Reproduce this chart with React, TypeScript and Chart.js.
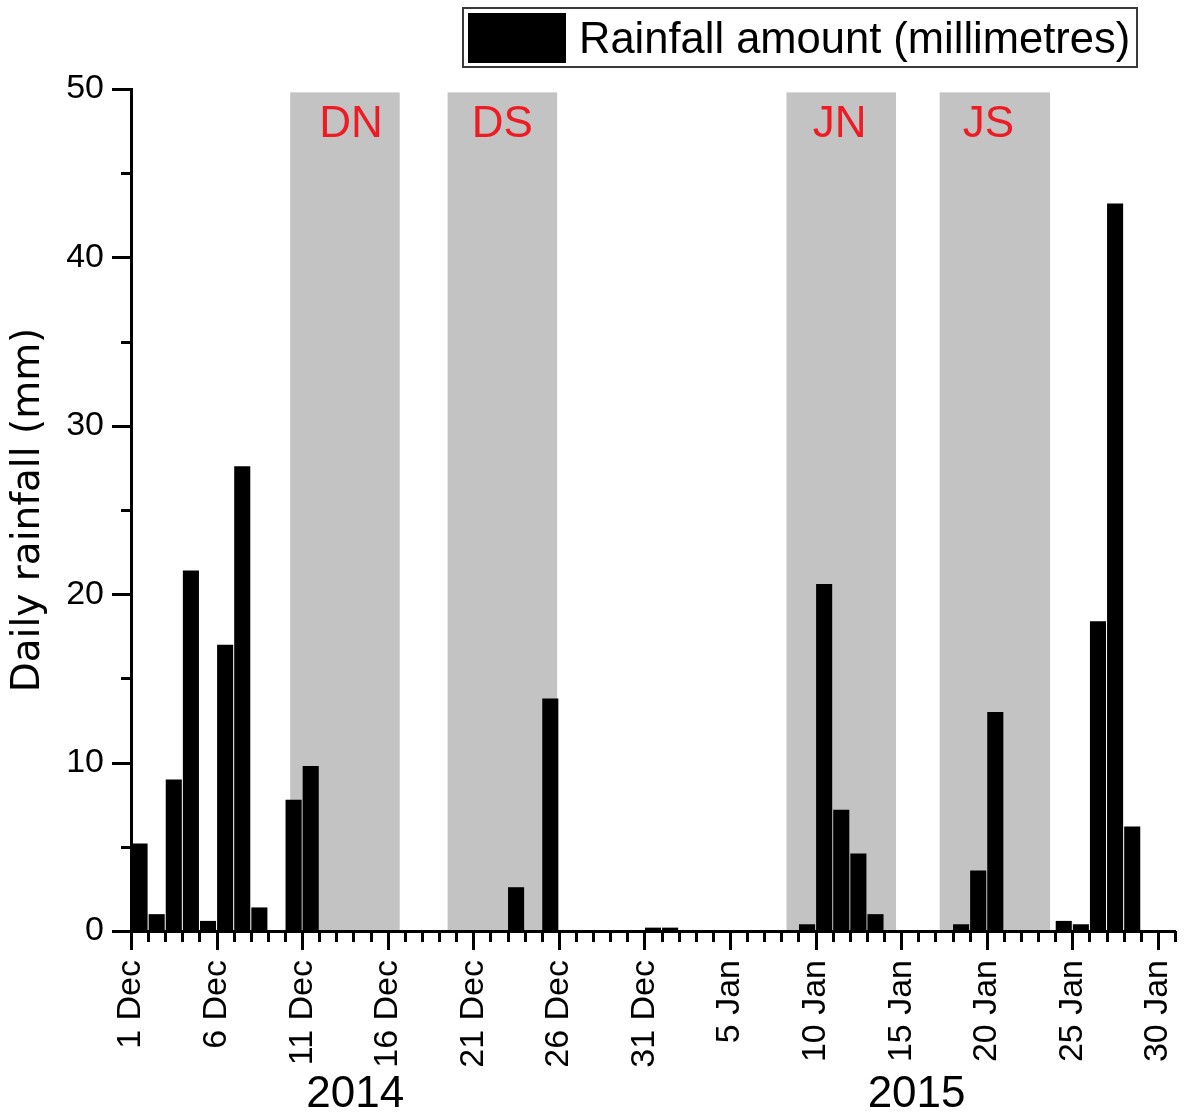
import React, { useEffect, useRef } from 'react';
import { Chart, registerables } from 'chart.js';

Chart.register(...registerables);

// Day categories (1 Dec 2014 to 30 Jan 2015)
const dayLabels = [
  '1 Dec', '2 Dec', '3 Dec', '4 Dec', '5 Dec', '6 Dec', '7 Dec', '8 Dec', '9 Dec', '10 Dec',
  '11 Dec', '12 Dec', '13 Dec', '14 Dec', '15 Dec', '16 Dec', '17 Dec', '18 Dec', '19 Dec', '20 Dec',
  '21 Dec', '22 Dec', '23 Dec', '24 Dec', '25 Dec', '26 Dec', '27 Dec', '28 Dec', '29 Dec', '30 Dec',
  '31 Dec', '1 Jan', '2 Jan', '3 Jan', '4 Jan', '5 Jan', '6 Jan', '7 Jan', '8 Jan', '9 Jan',
  '10 Jan', '11 Jan', '12 Jan', '13 Jan', '14 Jan', '15 Jan', '16 Jan', '17 Jan', '18 Jan', '19 Jan',
  '20 Jan', '21 Jan', '22 Jan', '23 Jan', '24 Jan', '25 Jan', '26 Jan', '27 Jan', '28 Jan', '29 Jan',
  '30 Jan',
];

// Daily rainfall (mm), one per day above
const rainfall = [
  5.2, 1.0, 9.0, 21.4, 0.6, 17.0, 27.6, 1.4, 0, 7.8,
  9.8, 0, 0, 0, 0, 0, 0, 0, 0, 0,
  0, 0, 2.6, 0, 13.8, 0, 0, 0, 0, 0,
  0.2, 0.2, 0, 0, 0, 0, 0, 0, 0, 0.4,
  20.6, 7.2, 4.6, 1.0, 0, 0, 0, 0, 0.4, 3.6,
  13.0, 0, 0, 0, 0.6, 0.4, 18.4, 43.2, 6.2, 0,
  0,
];

const seriesName = 'Rainfall amount (millimetres)';

// X tick positions (day index) and labels
const tickValues = [0, 5, 10, 15, 20, 25, 30, 35, 40, 45, 50, 55, 60];
const tickLabels = ['1 Dec', '6 Dec', '11 Dec', '16 Dec', '21 Dec', '26 Dec', '31 Dec', '5 Jan', '10 Jan', '15 Jan', '20 Jan', '25 Jan', '30 Jan'];

// Shaded sampling periods (in day units)
const periodNames = ['DN', 'DS', 'JN', 'JS'];
const periodStart = [9.3, 18.5, 38.3, 47.25];
const periodEnd = [15.7, 24.9, 44.7, 53.7];
const periodLabelAt = [12.85, 21.7, 41.4, 50.1];
const periodTop = 49.8;

// Year labels under the axis (day-unit centres)
const yearNames = ['2014', '2015'];
const yearCentres = [13.1, 45.9];

const ARIAL = '"Liberation Sans", Arial, sans-serif';

const decorPlugin = {
  id: 'decor',
  beforeDatasetsDraw(chart: any) {
    const { ctx, scales } = chart;
    const x = scales.x;
    const y = scales.y;
    ctx.save();
    for (let i = 0; i < periodNames.length; i++) {
      const l = x.getPixelForValue(periodStart[i]);
      const r = x.getPixelForValue(periodEnd[i]);
      const t = y.getPixelForValue(periodTop);
      const b = y.getPixelForValue(0);
      ctx.fillStyle = '#c3c3c3';
      ctx.fillRect(l, t, r - l, b - t);
      ctx.fillStyle = '#ed1c24';
      ctx.font = `44px ${ARIAL}`;
      ctx.textAlign = 'center';
      ctx.textBaseline = 'alphabetic';
      ctx.fillText(periodNames[i], x.getPixelForValue(periodLabelAt[i]), t + 45);
    }
    ctx.restore();
  },
  afterDraw(chart: any) {
    const { ctx, scales } = chart;
    const x = scales.x;
    const y = scales.y;
    const area = chart.chartArea;
    ctx.save();
    ctx.strokeStyle = '#000';
    ctx.lineWidth = 3;
    ctx.lineCap = 'butt';
    // x ticks: every day, major every 5
    for (let d = 0; d <= x.max; d++) {
      const px = Math.round(x.getPixelForValue(d)) + 0.5;
      const len = d % 5 === 0 ? 19 : 11;
      ctx.beginPath();
      ctx.moveTo(px, area.bottom);
      ctx.lineTo(px, area.bottom + len);
      ctx.stroke();
    }
    // y ticks: major every 10, minor every 5
    for (let v = 0; v <= y.max; v += 5) {
      const py = Math.round(y.getPixelForValue(v)) + 0.5;
      const len = v % 10 === 0 ? 19 : 10;
      ctx.beginPath();
      ctx.moveTo(area.left, py);
      ctx.lineTo(area.left - len, py);
      ctx.stroke();
    }
    // year labels
    ctx.fillStyle = '#000';
    ctx.font = `44px ${ARIAL}`;
    ctx.textAlign = 'center';
    ctx.textBaseline = 'alphabetic';
    for (let i = 0; i < yearNames.length; i++) {
      ctx.fillText(yearNames[i], x.getPixelForValue(yearCentres[i]), area.bottom + 176);
    }
    // legend box
    const ds = chart.data.datasets[0];
    ctx.fillStyle = '#fff';
    ctx.fillRect(462, 7, 676, 61);
    ctx.strokeStyle = '#3a3a3a';
    ctx.lineWidth = 2;
    ctx.strokeRect(463, 8, 674, 59);
    ctx.fillStyle = ds.backgroundColor;
    ctx.fillRect(468, 13, 98, 50);
    ctx.fillStyle = '#000';
    ctx.font = `43.5px ${ARIAL}`;
    ctx.textAlign = 'left';
    ctx.fillText(ds.label, 579, 53);
    ctx.restore();
  },
};

export default function App() {
  const canvasRef = useRef<HTMLCanvasElement | null>(null);

  useEffect(() => {
    const canvas = canvasRef.current;
    if (!canvas) return;
    const chart = new Chart(canvas, {
      type: 'bar',
      data: {
        datasets: [
          {
            label: seriesName,
            data: dayLabels.map((_, i) => ({ x: i + 0.5, y: rainfall[i] })),
            backgroundColor: '#000000',
            borderWidth: 0,
            barPercentage: 0.94,
            categoryPercentage: 1,
          },
        ],
      },
      options: {
        responsive: false,
        animation: false,
        devicePixelRatio: 1,
        layout: { padding: { top: 89, right: 9, left: 0, bottom: 0 } },
        plugins: {
          legend: { display: false },
          tooltip: { enabled: false },
        },
        scales: {
          x: {
            type: 'linear',
            min: 0,
            max: 61,
            offset: false,
            grid: { display: false, offset: false },
            border: { display: true, color: '#000', width: 3, z: 1 },
            afterBuildTicks: (scale: any) => {
              scale.ticks = tickValues.map((v) => ({ value: v }));
            },
            afterFit: (scale: any) => {
              scale.height = 187;
              scale.paddingLeft = 0;
              scale.paddingRight = 0;
            },
            ticks: {
              autoSkip: false,
              minRotation: 90,
              maxRotation: 90,
              padding: 21,
              color: '#000',
              font: { family: ARIAL, size: 34 },
              callback: (_v: any, index: number) => tickLabels[index],
            },
          },
          y: {
            type: 'linear',
            min: 0,
            max: 50,
            grid: { display: false },
            border: { display: true, color: '#000', width: 3, z: 1 },
            afterFit: (scale: any) => {
              scale.width = 131;
              scale.paddingTop = 0;
              scale.paddingBottom = 0;
            },
            ticks: {
              stepSize: 10,
              padding: 19,
              color: '#000',
              font: { family: ARIAL, size: 34 },
            },
            title: {
              display: true,
              text: 'Daily rainfall (mm)',
              color: '#000',
              font: { family: '"DejaVu Sans", sans-serif', size: 39 },
              padding: { top: 5, bottom: 0 },
            },
          },
        },
      },
      plugins: [decorPlugin],
    });
    return () => chart.destroy();
  }, []);

  return (
    <div style={{ position: 'absolute', left: 0, top: 0, width: 1184, height: 1118, background: '#fff' }}>
      <canvas ref={canvasRef} width={1184} height={1118} style={{ display: 'block' }} />
    </div>
  );
}
